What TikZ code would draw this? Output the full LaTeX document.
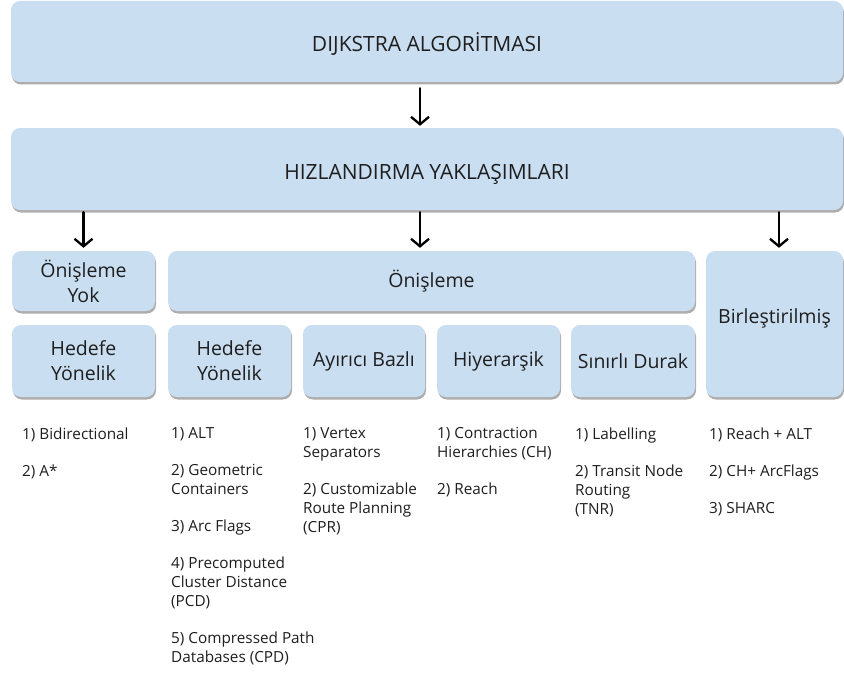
\documentclass[tikz,border=0pt]{standalone}
\usepackage{fontspec}
\setmainfont{Open Sans}
\usetikzlibrary{arrows.meta,positioning,shadows}
\definecolor{kutumavi}{RGB}{202,222,241}
\definecolor{yazi}{RGB}{30,30,30}
\tikzset{
  kutu/.style={fill=kutumavi, rounded corners=9pt, align=center, inner sep=1pt, text=yazi,
    font=\fontsize{19.5}{25}\selectfont,
    drop shadow={shadow xshift=1pt, shadow yshift=-2.5pt, fill=black!40, opacity=.8}},
  baslik/.style={kutu, minimum width=832pt, font=\fontsize{21}{25}\selectfont,
    text height=20pt, text depth=0pt},
  liste/.style={anchor=north west, inner sep=0pt, align=left, text=yazi,
    font=\fontsize{15.3}{19}\selectfont},
  ok/.style={-{Straight Barb[length=7.5pt,width=18pt]}, line width=2.3pt},
  every picture/.style={line cap=round, line join=round}
}

\begin{document}
\begin{tikzpicture}[x=1pt, y=-1pt]
  \useasboundingbox (0,0) rectangle (844,677);
  \clip (0,0) rectangle (844,677);

  \node[baslik, minimum height=81pt] (dijkstra) at (427,41.5) {DIJKSTRA ALGORİTMASI};
  \node[baslik, minimum height=82pt] (hizlandirma) at (427,169) {HIZLANDIRMA YAKLAŞIMLARI};

  \node[kutu, minimum width=143pt, minimum height=60pt] (onYok) at (83.5,281) {Önişleme\\Yok};
  \node[kutu, minimum width=527pt, minimum height=60pt] (onisleme) at (431.5,281) {Önişleme};
  \node[kutu, minimum width=137pt, minimum height=146pt, text depth=16pt] (birlesik) at (774.5,324) {Birleştirilmiş};

  \node[kutu, minimum width=143pt, minimum height=72pt] (hedefA) at (83.5,361) {Hedefe\\Yönelik};
  \node[kutu, minimum width=123pt, minimum height=72pt] (hedefB) at (229.5,361) {Hedefe\\Yönelik};
  \node[kutu, minimum width=122pt, minimum height=72pt] (ayirici) at (364,361) {Ayırıcı Bazlı};
  \node[kutu, minimum width=123pt, minimum height=72pt] (hiyerarsik) at (498.5,361) {Hiyerarşik};
  \node[kutu, minimum width=124pt, minimum height=72pt] (sinirli) at (633,361) {Sınırlı Durak};

  \draw[ok, shorten <=6pt, shorten >=2pt] ([xshift=-7pt]dijkstra.south) -- ([xshift=-7pt]hizlandirma.north);
  \draw[ok, shorten <=2pt, shorten >=3pt] (hizlandirma.south -| onYok.north) -- (onYok.north);
  \draw[ok, shorten <=2pt, shorten >=3pt] ([xshift=-11.5pt]onisleme.north |- hizlandirma.south) -- ([xshift=-11.5pt]onisleme.north);
  \draw[ok, shorten <=2pt, shorten >=3pt] ([xshift=4.5pt]birlesik.north |- hizlandirma.south) -- ([xshift=4.5pt]birlesik.north);

  \node[liste] (liste1) at (22,427.5) {1) Bidirectional\\[18pt]2) A*};
  \node[liste] (liste2) at (171,427.5) {1) ALT\\[18pt]2) Geometric\\Containers\\[18pt]3) Arc Flags\\[18pt]4) Precomputed\\Cluster Distance\\(PCD)\\[18pt]5) Compressed Path\\Databases (CPD)};
  \node[liste] (liste3) at (303,427.5) {1) Vertex\\Separators\\[18pt]2) Customizable\\Route Planning\\(CPR)};
  \node[liste] (liste4) at (437,427.5) {1) Contraction\\Hierarchies (CH)\\[18pt]2) Reach};
  \node[liste] (liste5) at (575,427.5) {1) Labelling\\[18pt]2) Transit Node\\Routing\\(TNR)};
  \node[liste] (liste6) at (709,427.5) {1) Reach + ALT\\[18pt]2) CH+ ArcFlags\\[18pt]3) SHARC};
\end{tikzpicture}
\end{document}
